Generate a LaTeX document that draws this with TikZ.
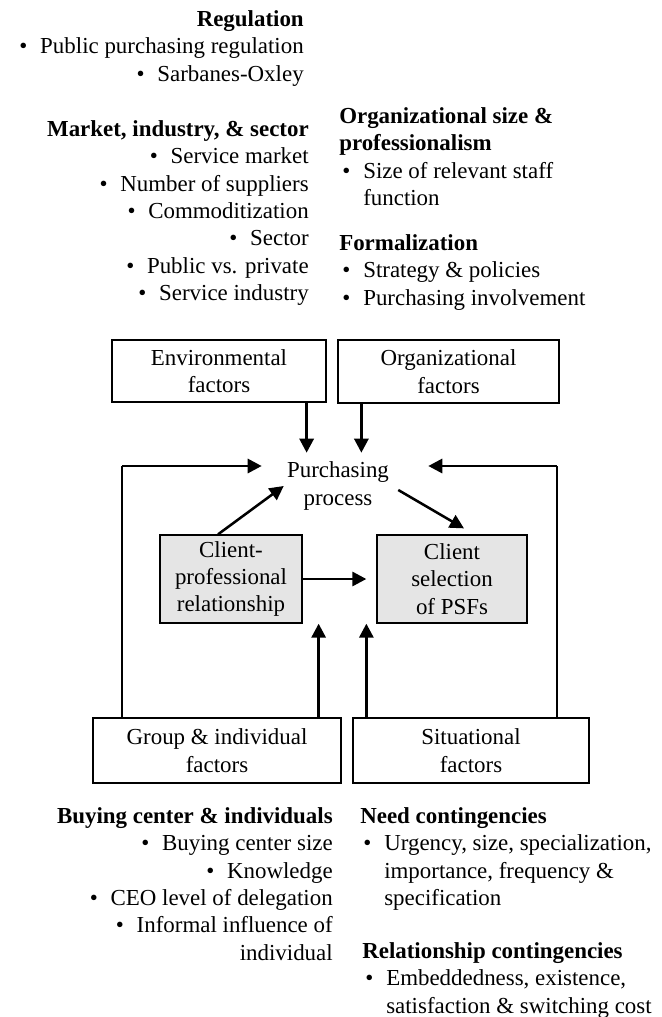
\documentclass[tikz,border=0pt]{standalone}
\usepackage{fontspec}
\setmainfont{Liberation Serif}
\usetikzlibrary{arrows.meta}

\newcommand{\bul}{\makebox[0.6cm][l]{\hspace{0.08cm}\textbullet}}
\newcommand{\hang}{\hspace*{0.6cm}}

\begin{document}
\begin{tikzpicture}[
    every node/.style={font=\fontsize{16.3pt}{19.5pt}\selectfont},
    >={Triangle[length=10pt, width=10pt]},
    factorbox/.style={rectangle, draw, line width=0.9pt, align=center, inner sep=0pt},
    corebox/.style={factorbox, fill=black!10},
    listright/.style={inner sep=0pt, align=right, anchor=north east},
    listleft/.style={inner sep=0pt, align=left, anchor=north west},
    heavy/.style={line width=2.1pt},
    lean/.style={line width=0.9pt}
]
    \useasboundingbox (0, 0) rectangle (16.55, -25.425);

    % lists of factors
    \node (regulation) [listright, shift={(7.6, -0.25)}]
    {
        \textbf{Regulation}\\
        \bul Public purchasing regulation\\
        \bul Sarbanes-Oxley
    };

    \node (market) [listright, shift={(7.725, -3.0)}]
    {
        \textbf{Market, industry, \& sector}\\
        \bul Service market\\
        \bul Number of suppliers\\
        \bul Commoditization\\
        \bul Sector\\
        \bul Public vs. private\\
        \bul Service industry
    };

    \node (org_size) [listleft, shift={(8.475, -2.675)}]
    {
        \textbf{Organizational size \&}\\
        \textbf{professionalism}\\
        \bul Size of relevant staff\\
        \hang function
    };

    \node (formalization) [listleft, shift={(8.475, -5.85)}]
    {
        \textbf{Formalization}\\
        \bul Strategy \& policies\\
        \bul Purchasing involvement
    };

    \node (buying_center) [listright, shift={(8.325, -20.175)}]
    {
        \textbf{Buying center \& individuals}\\
        \bul Buying center size\\
        \bul Knowledge\\
        \bul CEO level of delegation\\
        \bul Informal influence of\\
        individual
    };

    \node (need_contingencies) [listleft, shift={(9.0, -20.175)}]
    {
        \textbf{Need contingencies}\\
        \bul Urgency, size, specialization,\\
        \hang importance, frequency \&\\
        \hang specification
    };

    \node (relationship_contingencies) [listleft, shift={(9.05, -23.55)}]
    {
        \textbf{Relationship contingencies}\\
        \bul Embeddedness, existence,\\
        \hang satisfaction \& switching cost
    };

    % factor boxes
    \node (env_factors) [factorbox, minimum width=5.35cm, minimum height=1.55cm, shift={(5.475, -9.275)}]
    {
        Environmental\\ factors
    };

    \node (org_factors) [factorbox, minimum width=5.525cm, minimum height=1.575cm, shift={(11.2125, -9.2875)}]
    {
        Organizational\\ factors
    };

    \node (group_factors) [factorbox, minimum width=6.2cm, minimum height=1.625cm, shift={(5.425, -18.7625)}]
    {
        Group \& individual\\ factors
    };

    \node (situ_factors) [factorbox, minimum width=5.9cm, minimum height=1.625cm, shift={(11.775, -18.7625)}]
    {
        Situational\\ factors
    };

    % core of the model
    \node (purchasing_process) [inner sep=0pt, align=center, minimum width=3.8cm, minimum height=1.65cm, shift={(8.45, -12.15)}]
    {
        Purchasing\\ process
    };

    \node (client_prof) [corebox, minimum width=3.55cm, minimum height=2.2cm, shift={(5.775, -14.475)}]
    {
        Client-\\ professional\\ relationship
    };

    \node (client_sel) [corebox, minimum width=3.75cm, minimum height=2.2cm, shift={(11.3, -14.475)}]
    {
        Client\\ selection\\ of PSFs
    };

    \coordinate (env_out) at ([xshift=-0.5cm]env_factors.south east);
    \coordinate (org_out) at ([xshift=0.6cm]org_factors.south west);
    \coordinate (group_out) at ([xshift=-0.575cm]group_factors.north east);
    \coordinate (situ_out) at ([xshift=0.35cm]situ_factors.north west);
    \coordinate (loop_left) at (3.05, -11.65);
    \coordinate (loop_right) at (13.925, -11.65);
    \coordinate (loop_right_in) at ([xshift=0.35cm]purchasing_process.east);

    \draw[->, heavy] (env_out) to (env_out |- purchasing_process.north);
    \draw[->, heavy] (org_out) to (org_out |- purchasing_process.north);

    \draw[->, heavy] (group_out) to (group_out |- client_prof.south);
    \draw[->, heavy] (situ_out) to (situ_out |- client_sel.south);

    \draw[lean] (loop_left |- group_factors.north) to (loop_left);
    \draw[->, heavy] (loop_left) to (loop_left -| purchasing_process.west);
    \draw[lean] (loop_right |- situ_factors.north) to (loop_right);
    \draw[->, heavy] (loop_right) to (loop_right -| loop_right_in);

    \draw[->, line width=1.8pt] ([xshift=-0.325cm]client_prof.north) to ([xshift=0.55cm]purchasing_process.west);
    \draw[->, line width=1.8pt] ([xshift=-0.4cm, yshift=-0.1cm]purchasing_process.east) to ([xshift=0.3cm, yshift=0.15cm]client_sel.north);
    \draw[->, heavy] (client_prof.east) to ([xshift=-0.25cm]client_sel.west);
\end{tikzpicture}
\end{document}
